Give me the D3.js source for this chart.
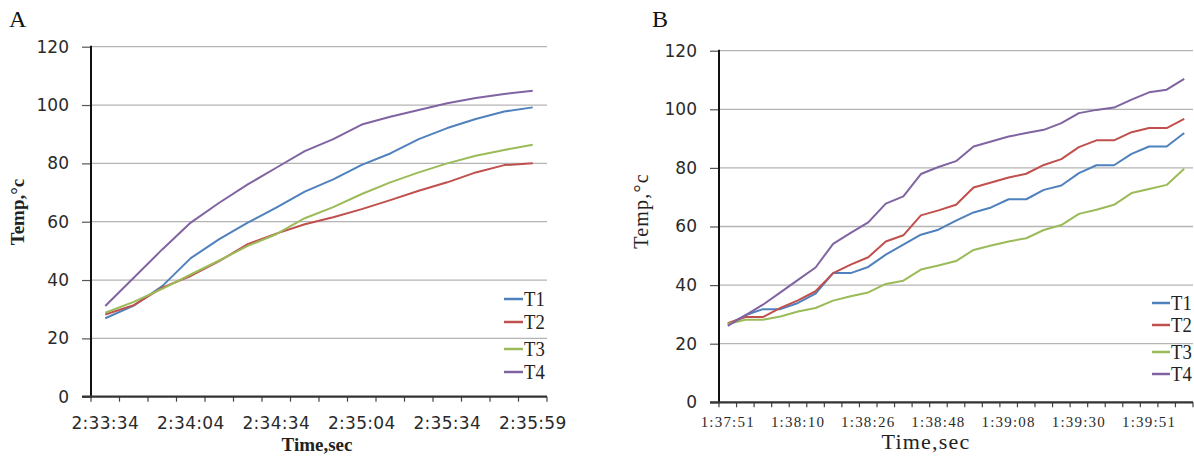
<!DOCTYPE html>
<html>
<head>
<meta charset="utf-8">
<script src="https://cdn.jsdelivr.net/npm/d3@7/dist/d3.min.js"></script>
<style>
  html, body { margin: 0; padding: 0; background: #fff; }
  svg { display: block; }
</style>
</head>
<body>
<div id="chart"></div>
<script>
// ---- data ----
const seriesNames = ['T1', 'T2', 'T3', 'T4'];
const seriesColors = ['#4f81bd', '#c0504d', '#9bbb59', '#8064a2'];
const yTicks = [0, 20, 40, 60, 80, 100, 120];

// panel A: 16 readings, time label every 3rd reading
const tickLabelsA = ['2:33:34', '2:34:04', '2:34:34', '2:35:04', '2:35:34', '2:35:59'];
const labelStepA = 3;
const t1A = [26.9, 31.2, 37.9, 47.5, 54, 59.7, 64.8, 70.3, 74.5, 79.5, 83.4, 88.3, 92.1, 95.2, 97.8, 99.2];
const t2A = [28.2, 31.4, 37.4, 41.4, 46.5, 52.3, 55.9, 59.1, 61.5, 64.3, 67.4, 70.6, 73.5, 76.9, 79.4, 80];
const t3A = [28.8, 32.5, 37, 41.9, 46.7, 51.7, 55.7, 61.2, 65, 69.5, 73.5, 76.9, 80, 82.6, 84.6, 86.4];
const t4A = [31.1, 40.8, 50.5, 59.7, 66.5, 72.8, 78.5, 84.2, 88.3, 93.3, 96, 98.3, 100.6, 102.4, 103.8, 104.9];

// panel B: 27 readings, time label every 4th reading
const tickLabelsB = ['1:37:51', '1:38:10', '1:38:26', '1:38:48', '1:39:08', '1:39:30', '1:39:51'];
const labelStepB = 4;
const t1B = [26.5, 29.7, 31.8, 31.8, 33.9, 37.1, 44.1, 44.1, 46.2, 50.4, 53.8, 57.2, 58.9, 62, 64.8, 66.5, 69.3, 69.3, 72.5, 74, 78.2, 80.9, 80.9, 84.8, 87.3, 87.3, 91.9];
const t2B = [27, 29.1, 29.1, 32.2, 34.8, 37.9, 44.1, 47, 49.5, 54.9, 57, 63.8, 65.5, 67.4, 73.3, 75, 76.7, 78, 81, 83, 87.1, 89.4, 89.4, 92.2, 93.6, 93.6, 96.7];
const t3B = [26.7, 28.2, 28.2, 29.3, 31, 32.2, 34.7, 36.2, 37.5, 40.4, 41.5, 45.3, 46.7, 48.2, 52, 53.5, 54.9, 56, 58.8, 60.5, 64.3, 65.7, 67.4, 71.4, 72.8, 74.2, 79.7];
const t4B = [26.1, 29.7, 33.3, 37.5, 41.8, 46, 54.1, 57.8, 61.4, 67.8, 70.3, 77.9, 80.3, 82.3, 87.3, 89, 90.7, 91.9, 93, 95.3, 98.7, 99.8, 100.6, 103.3, 105.8, 106.7, 110.4];

const W = 1194, H = 456;
const svg = d3.select('#chart').append('svg')
    .attr('width', W)
    .attr('height', H);

function drawPanel(cfg) {
    const g = svg.append('g');
    const n = cfg.series[0].length;
    const cats = d3.range(n);

    const x = d3.scaleBand().domain(cats).range([cfg.left, cfg.right]);
    const y = d3.scaleLinear().domain([0, 120]).range([cfg.bottom, cfg.top]);
    const cx = i => x(i) + x.bandwidth() / 2;

    // gridlines
    g.selectAll('.grid')
        .data(yTicks.filter(d => d > 0))
        .join('line')
        .attr('class', 'grid')
        .attr('x1', cfg.left)
        .attr('x2', cfg.right)
        .attr('y1', d => y(d))
        .attr('y2', d => y(d))
        .style('stroke', '#b4b4b4')
        .style('stroke-width', 1.3);

    // y axis
    const yAxis = g.append('g')
        .attr('transform', `translate(${cfg.left},0)`)
        .call(d3.axisLeft(y).tickValues(yTicks).tickSize(9).tickPadding(13));
    yAxis.select('.domain').remove();
    yAxis.selectAll('.tick line').style('stroke', '#555').style('stroke-width', 1.2);
    yAxis.selectAll('.tick text')
        .style('font-family', 'DejaVu Sans, sans-serif')
        .style('font-size', '17px')
        .style('fill', '#2a2a2a');
    g.append('line')
        .attr('x1', cfg.left).attr('x2', cfg.left)
        .attr('y1', y(120) - 1).attr('y2', cfg.bottom + 1)
        .style('stroke', '#111')
        .style('stroke-width', 2);

    // x axis with ticks at category boundaries
    const bounds = cats.map(i => x(i)).concat([x.range()[1]]);
    g.selectAll('.xtick')
        .data(bounds)
        .join('line')
        .attr('class', 'xtick')
        .attr('x1', d => d).attr('x2', d => d)
        .attr('y1', cfg.bottom).attr('y2', cfg.bottom + 5)
        .style('stroke', '#444')
        .style('stroke-width', 1.2);
    g.append('line')
        .attr('x1', cfg.left - 9).attr('x2', cfg.right)
        .attr('y1', cfg.bottom).attr('y2', cfg.bottom)
        .style('stroke', '#333')
        .style('stroke-width', 2.2);

    g.selectAll('.xlabel')
        .data(cfg.tickLabels)
        .join('text')
        .attr('class', 'xlabel')
        .attr('x', (d, i) => cx(i * cfg.labelStep))
        .attr('y', cfg.xLabelY)
        .attr('text-anchor', 'middle')
        .style('font-family', cfg.xLabelFont)
        .style('font-size', cfg.xLabelSize)
        .style('letter-spacing', cfg.xLabelSpacing)
        .style('fill', '#2a2a2a')
        .text(d => d);

    // series lines
    const line = d3.line().x((d, i) => cx(i)).y(d => y(d));
    g.selectAll('.series')
        .data(cfg.series)
        .join('path')
        .attr('class', 'series')
        .attr('d', line)
        .style('fill', 'none')
        .style('stroke', (d, i) => seriesColors[i])
        .style('stroke-width', 2)
        .style('stroke-linejoin', 'round');

    // legend
    const leg = g.selectAll('.legend')
        .data(seriesNames)
        .join('g')
        .attr('class', 'legend')
        .attr('transform', (d, i) => `translate(${cfg.legendX},${cfg.legendY[i]})`);
    leg.append('line')
        .attr('x1', 0).attr('x2', cfg.legendLen)
        .style('stroke', (d, i) => seriesColors[i])
        .style('stroke-width', 2.5);
    leg.append('text')
        .attr('y', 7)
        .style('font-family', 'Liberation Serif, serif')
        .style('font-size', '22px')
        .attr('transform', 'scale(0.85,1)')
        .attr('x', (cfg.legendLen + 1) / 0.85)
        .style('fill', '#222')
        .text(d => d);

    // axis titles
    svg.append('text')
        .attr('transform', `translate(${cfg.yTitleX},${cfg.yTitleY}) rotate(-90)`)
        .attr('text-anchor', 'middle')
        .style('font-family', 'Liberation Serif, serif')
        .style('font-size', cfg.yTitleSize)
        .style('font-weight', cfg.titleWeight)
        .style('letter-spacing', cfg.titleSpacing)
        .style('fill', '#222')
        .text('Temp,°c');
    svg.append('text')
        .attr('x', cfg.xTitleX)
        .attr('y', cfg.xTitleY)
        .attr('text-anchor', 'middle')
        .style('font-family', 'Liberation Serif, serif')
        .style('font-size', cfg.xTitleSize)
        .style('font-weight', cfg.titleWeight)
        .style('letter-spacing', cfg.titleSpacing)
        .style('fill', '#222')
        .text('Time,sec');

    // panel letter
    svg.append('text')
        .attr('x', cfg.letterX)
        .attr('y', 27)
        .style('font-family', 'Liberation Serif, serif')
        .style('font-size', '24px')
        .style('fill', '#111')
        .text(cfg.letter);
}

drawPanel({
    letter: 'A', letterX: 9,
    left: 91, right: 547, top: 46.7, bottom: 396.7,
    series: [t1A, t2A, t3A, t4A],
    tickLabels: tickLabelsA, labelStep: labelStepA,
    xLabelY: 429, xLabelFont: 'DejaVu Sans, sans-serif', xLabelSize: '17px', xLabelSpacing: '0.3px',
    legendX: 504, legendLen: 19, legendY: [299, 322, 349, 372],
    yTitleX: 24, yTitleY: 212, yTitleSize: '19px',
    xTitleX: 317, xTitleY: 451, xTitleSize: '19px',
    titleWeight: 'bold', titleSpacing: '0px'
});

drawPanel({
    letter: 'B', letterX: 652,
    left: 719, right: 1193, top: 50.7, bottom: 402.3,
    series: [t1B, t2B, t3B, t4B],
    tickLabels: tickLabelsB, labelStep: labelStepB,
    xLabelY: 427, xLabelFont: 'Liberation Serif, serif', xLabelSize: '15px', xLabelSpacing: '1.2px',
    legendX: 1152, legendLen: 18, legendY: [303, 325, 352, 374],
    yTitleX: 648, yTitleY: 211, yTitleSize: '20px',
    xTitleX: 926, xTitleY: 449, xTitleSize: '22px',
    titleWeight: 'normal', titleSpacing: '1.2px'
});
</script>
</body>
</html>
